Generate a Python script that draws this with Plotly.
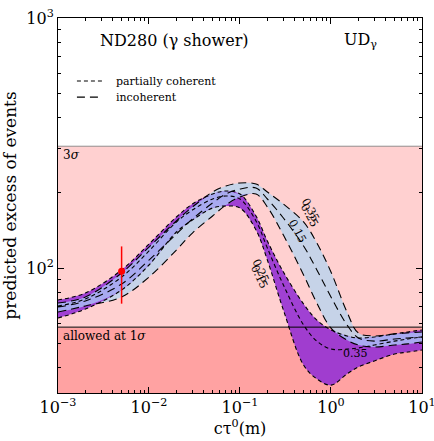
import numpy as np
import plotly.graph_objects as go

# ---- data ----
ctau = [0.001, 0.002, 0.005, 0.01, 0.02, 0.03, 0.05, 0.07, 0.1, 0.15, 0.2,
        0.3, 0.5, 0.7, 1.0, 1.5, 2.0, 3.0, 5.0, 7.0, 10.0]

# incoherent (light blue band)
inc_hi = [72.4, 76.6, 95.5, 121.3, 154.2, 175.4, 201.4, 212.8, 218.8, 216.8, 201.4,
          180.3, 152.8, 125.9, 96.4, 66.7, 55.0, 53.5, 54.5, 55.0, 55.5]
inc_mid = [69.8, 73.8, 86.3, 107.6, 136.8, 157.0, 182.0, 197.7, 207.0, 208.9, 188.8,
           158.5, 122.5, 98.2, 76.6, 59.2, 52.5, 51.0, 52.0, 52.5, 53.0]
inc_lo = [66.7, 70.5, 76.6, 92.0, 118.0, 138.0, 161.4, 178.6, 192.3, 197.7, 175.4,
          135.5, 93.8, 72.4, 57.5, 51.5, 49.2, 48.3, 49.2, 49.7, 50.6]

# partially coherent (purple band)
pc_hi = [74.5, 79.4, 98.2, 124.7, 160.0, 180.3, 197.7, 203.2, 197.7, 161.4, 128.2,
         96.4, 71.8, 61.9, 56.5, 53.5, 52.5, 53.0, 54.5, 55.5, 56.5]
pc_mid = [70.5, 75.2, 92.0, 117.0, 152.8, 170.6, 188.8, 194.1, 188.8, 154.2, 120.2,
          85.5, 59.2, 51.0, 47.4, 47.4, 47.9, 49.2, 51.0, 52.0, 53.0]
pc_lo = [63.1, 68.5, 81.7, 102.8, 139.3, 155.6, 173.8, 177.0, 173.8, 141.9, 107.6,
         67.9, 40.9, 36.0, 34.0, 37.7, 40.2, 42.5, 45.3, 46.1, 47.0]

# measured point
pt_x = [0.005]
pt_y = [97.0]
pt_err = [25.0]

sigma3 = 307.0
sigma1 = 58.0

x_tick_vals = [1e-3, 1e-2, 1e-1, 1e0, 1e1]
x_tick_text = ["10<sup>−3</sup>", "10<sup>−2</sup>", "10<sup>−1</sup>", "10<sup>0</sup>", "10<sup>1</sup>"]
y_tick_vals = [1e2, 1e3]
y_tick_text = ["10<sup>2</sup>", "10<sup>3</sup>"]

legend_labels = ["partially coherent", "incoherent"]

FONT = "DejaVu Serif"
LIGHTBLUE = "rgba(188,212,236,0.85)"
PURPLE = "rgba(152,52,210,0.92)"
PERI = "rgba(168,170,240,1)"
SHAPE = "spline"
SHORT = "4px,3px"
LONG = "8px,5px"

fig = go.Figure()

# regions
x_span = [1e-3, 1e1]
fig.add_trace(go.Scatter(x=x_span, y=[10**1.5, 10**1.5], mode="lines", line=dict(width=0),
                         showlegend=False, hoverinfo="skip"))
fig.add_trace(go.Scatter(x=x_span, y=[sigma1, sigma1], mode="lines", line=dict(width=0),
                         fill="tonexty", fillcolor="#ffa2a2", showlegend=False, hoverinfo="skip"))
fig.add_trace(go.Scatter(x=x_span, y=[sigma3, sigma3], mode="lines", line=dict(width=0),
                         fill="tonexty", fillcolor="#ffd0d0", showlegend=False, hoverinfo="skip"))


def band(lo, hi, color):
    fig.add_trace(go.Scatter(x=ctau, y=lo, mode="lines", line=dict(width=0, shape=SHAPE),
                             showlegend=False, hoverinfo="skip"))
    fig.add_trace(go.Scatter(x=ctau, y=hi, mode="lines", line=dict(width=0, shape=SHAPE),
                             fill="tonexty", fillcolor=color, showlegend=False, hoverinfo="skip"))


band(inc_lo, inc_hi, LIGHTBLUE)
band(pc_lo, pc_hi, PURPLE)
ov_lo = np.maximum(inc_lo, pc_lo)
ov_hi = np.minimum(inc_hi, pc_hi)
ov_hi = np.maximum(ov_hi, ov_lo)
band(list(ov_lo), list(ov_hi), PERI)

# threshold lines
fig.add_trace(go.Scatter(x=x_span, y=[sigma1, sigma1], mode="lines",
                         line=dict(color="black", width=1), showlegend=False, hoverinfo="skip"))
fig.add_trace(go.Scatter(x=x_span, y=[sigma3, sigma3], mode="lines",
                         line=dict(color="#777777", width=0.8), showlegend=False, hoverinfo="skip"))

# dashed contour lines
for arr in [pc_hi, pc_mid, pc_lo]:
    fig.add_trace(go.Scatter(x=ctau, y=arr, mode="lines",
                             line=dict(color="black", width=1.1, dash=SHORT, shape=SHAPE),
                             showlegend=False, hoverinfo="skip"))
for arr in [inc_hi, inc_mid, inc_lo]:
    fig.add_trace(go.Scatter(x=ctau, y=arr, mode="lines",
                             line=dict(color="black", width=1.1, dash=LONG, shape=SHAPE),
                             showlegend=False, hoverinfo="skip"))

# data point
fig.add_trace(go.Scatter(x=pt_x, y=pt_y, mode="markers",
                         marker=dict(color="red", size=7),
                         error_y=dict(type="data", array=pt_err, color="red", thickness=1.5, width=0),
                         showlegend=False))

ann = []
def text(x, y, s, size, xanchor="center", yanchor="middle", angle=0, xref="paper", yref="paper"):
    ann.append(dict(x=x, y=y, xref=xref, yref=yref, text=s, showarrow=False,
                    font=dict(family=FONT, size=size, color="black"),
                    xanchor=xanchor, yanchor=yanchor, textangle=angle))

text(0.32, 0.941, "ND280 (γ shower)", 16)
text(0.83, 0.941, "UD<sub>γ</sub>", 16)
text(0.008, np.log10(sigma3), "3<i>σ</i>", 12, xanchor="left", yanchor="top", yref="y")
text(0.008, np.log10(sigma1), "allowed at 1<i>σ</i>", 12, xanchor="left", yanchor="top", yref="y")
text(np.log10(0.6), np.log10(170), "0.35", 11, angle=62, xref="x", yref="y")
text(np.log10(0.58), np.log10(162), "0.25", 11, angle=62, xref="x", yref="y")
text(np.log10(0.43), np.log10(140), "0.15", 11, angle=62, xref="x", yref="y")
text(np.log10(0.17), np.log10(97), "0.25", 11, angle=65, xref="x", yref="y")
text(np.log10(0.165), np.log10(92), "0.15", 11, angle=65, xref="x", yref="y")
text(np.log10(1.85), np.log10(45.5), "0.35", 11, xref="x", yref="y")

# legend (manual, matplotlib style)
leg_y = [0.832, 0.789]
for lab, dash, ly in zip(legend_labels, [SHORT, LONG], leg_y):
    fig.add_shape(type="line", xref="paper", yref="paper", x0=0.052, x1=0.122, y0=ly, y1=ly,
                  line=dict(color="black", width=1.1, dash=dash))
    text(0.155, ly, lab, 11, xanchor="left")

minor_x = [m * 10.0**e for e in range(-3, 1) for m in range(2, 10)]
minor_y = [m * 10.0**e for e in range(1, 3) for m in range(2, 10) if 10**1.5 <= m * 10.0**e <= 1000]

axis_common = dict(showline=True, linecolor="black", linewidth=1, mirror="ticks",
                   ticks="inside", ticklen=6, tickwidth=1, tickcolor="black",
                   showgrid=False, zeroline=False, ticklabeloverflow="allow", automargin=False,
                   tickfont=dict(family=FONT, size=16, color="black"))

fig.update_layout(
    width=434, height=441,
    margin=dict(l=58, r=12, t=18, b=48),
    plot_bgcolor="white", paper_bgcolor="white",
    font=dict(family=FONT, color="black"),
    showlegend=False,
    xaxis=dict(type="log", range=[-3, 1.0004], tickvals=x_tick_vals, ticktext=x_tick_text,
               minor=dict(tickvals=minor_x, ticks="inside", ticklen=3, tickcolor="black", showgrid=False),
               title=dict(text="cτ<sup>0</sup>(m)", font=dict(family=FONT, size=16), standoff=4),
               **axis_common),
    yaxis=dict(type="log", range=[1.5, 3], tickvals=y_tick_vals, ticktext=y_tick_text,
               minor=dict(tickvals=minor_y, ticks="inside", ticklen=3, tickcolor="black", showgrid=False),
               title=dict(text="predicted excess of events", font=dict(family=FONT, size=17), standoff=6),
               **axis_common),
    annotations=ann,
)

fig.write_html("out.html")
